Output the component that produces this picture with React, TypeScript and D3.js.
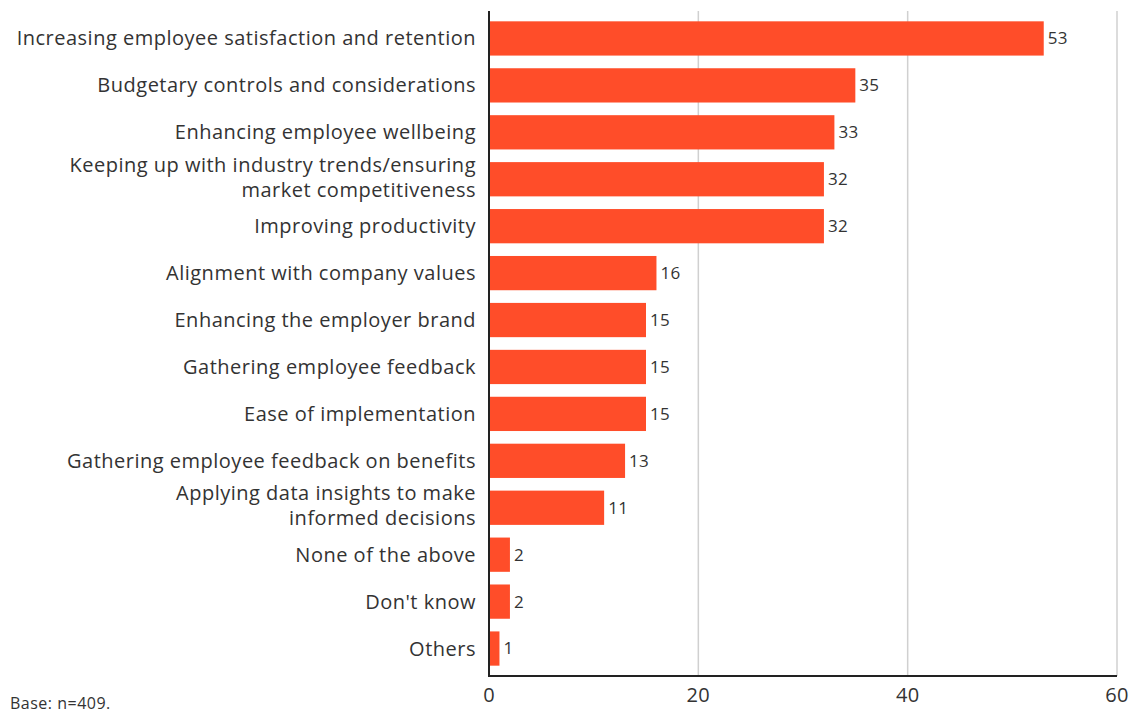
import React from "react";
import * as d3 from "d3";

const categories: string[][] = [
  ["Increasing employee satisfaction and retention"],
  ["Budgetary controls and considerations"],
  ["Enhancing employee wellbeing"],
  ["Keeping up with industry trends/ensuring", "market competitiveness"],
  ["Improving productivity"],
  ["Alignment with company values"],
  ["Enhancing the employer brand"],
  ["Gathering employee feedback"],
  ["Ease of implementation"],
  ["Gathering employee feedback on benefits"],
  ["Applying data insights to make", "informed decisions"],
  ["None of the above"],
  ["Don't know"],
  ["Others"],
];
const values: number[] = [53, 35, 33, 32, 32, 16, 15, 15, 15, 13, 11, 2, 2, 1];
const xTicks: number[] = [0, 20, 40, 60];
const note = "Base: n=409.";

const W = 1129;
const H = 715;
const FONT = "'Open Sans', Lato, sans-serif";
const BAR = "#FF4D29";
const TEXT = "#333333";

export default function App() {
  const x0 = 489;
  const x = d3.scaleLinear().domain([0, 60]).range([x0, 1117]);
  const ids = categories.map((_, i) => String(i));
  const y = d3
    .scaleBand<string>()
    .domain(ids)
    .range([11, 676])
    .paddingInner(0.27)
    .paddingOuter(0.22);
  const bw = y.bandwidth();

  return (
    <div style={{ position: "fixed", left: 0, top: 0, width: W, height: H, overflow: "hidden" }}>
      <svg width={W} height={H} style={{ display: "block", background: "#fff" }}>
        {xTicks.map((t) => (
          <line
            key={"g" + t}
            x1={x(t)}
            x2={x(t)}
            y1={11}
            y2={676}
            stroke="#d0d0d0"
            strokeWidth={1.5}
          />
        ))}
        {values.map((v, i) => (
          <rect
            key={"b" + i}
            x={x(0) + 1}
            y={y(ids[i])!}
            width={x(v) - x(0) - 1}
            height={bw}
            fill={BAR}
          />
        ))}
        {values.map((v, i) => (
          <text
            key={"v" + i}
            x={x(v) + 4}
            y={y(ids[i])! + bw / 2}
            dy="0.35em"
            fontSize={17}
            letterSpacing={0.3}
            fontFamily={FONT}
            fill={TEXT}
          >
            {v}
          </text>
        ))}
        {categories.map((lines, i) => {
          const cy = y(ids[i])! + bw / 2;
          const lh = 25;
          const start = cy - ((lines.length - 1) * lh) / 2 - (lines.length > 1 ? 2 : 0);
          return (
            <text
              key={"c" + i}
              textAnchor="end"
              fontSize={20}
              letterSpacing={0.5}
              fontFamily={FONT}
              fill={TEXT}
            >
              {lines.map((l, j) => (
                <tspan key={j} x={476} y={start + j * lh} dy="0.35em">
                  {l}
                </tspan>
              ))}
            </text>
          );
        })}
        <line x1={x0} x2={x0} y1={11} y2={677} stroke="#222" strokeWidth={2} />
        <line x1={x0 - 1} x2={x(60)} y1={676} y2={676} stroke="#222" strokeWidth={2} />
        {xTicks.map((t) => (
          <text
            key={"t" + t}
            x={x(t)}
            y={702}
            textAnchor="middle"
            fontSize={20}
            letterSpacing={0.3}
            fontFamily={FONT}
            fill={TEXT}
          >
            {t}
          </text>
        ))}
        <text x={10} y={709} fontSize={16} letterSpacing={0.5} fontFamily={FONT} fill={TEXT}>
          {note}
        </text>
      </svg>
    </div>
  );
}
